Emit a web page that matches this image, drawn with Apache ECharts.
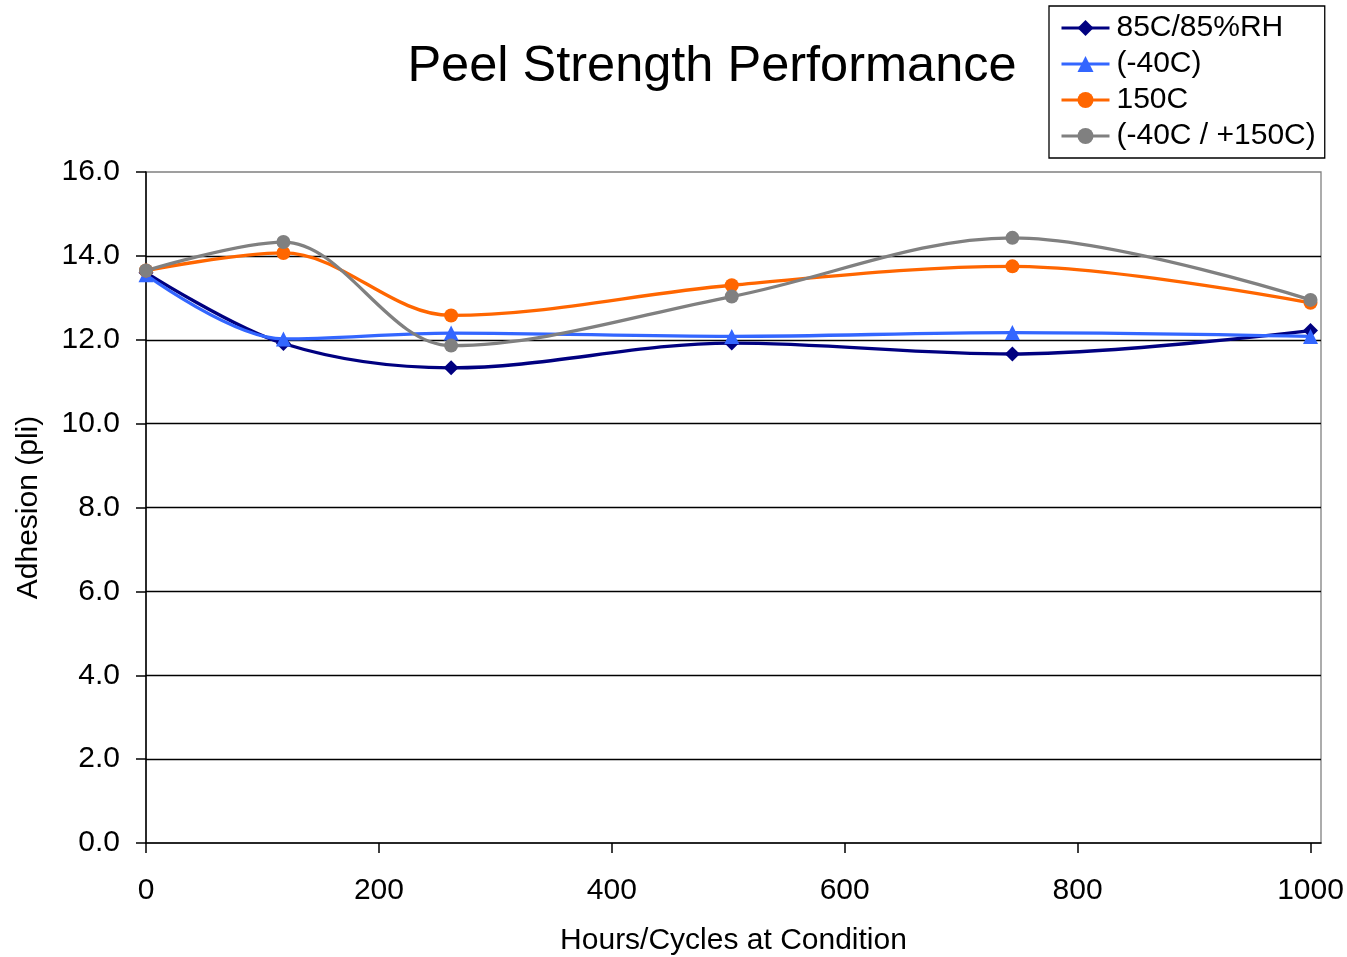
<!DOCTYPE html>
<html>
<head>
<meta charset="utf-8">
<script src="https://cdn.jsdelivr.net/npm/echarts@6/dist/echarts.min.js"></script>
<style>
html,body{margin:0;padding:0;background:#fff;}
#chart{width:1347px;height:957px;}
</style>
</head>
<body>
<div id="chart"></div>
<script>
// Data
var hours = [0, 118, 262, 503, 744, 1000];
var rh85 = [13.60, 11.91, 11.33, 11.92, 11.66, 12.22];
var cold40 = [13.55, 12.02, 12.16, 12.08, 12.17, 12.08];
var hot150 = [13.65, 14.07, 12.58, 13.30, 13.75, 12.88];
var cycle = [13.65, 14.33, 11.86, 13.03, 14.43, 12.95];
var seriesNames = ['85C/85%RH', '(-40C)', '150C', '(-40C / +150C)'];
var xTicks = [0, 200, 400, 600, 800, 1000];

function pairs(ys) { return hours.map(function (h, i) { return [h, ys[i]]; }); }

var FONT = "'Liberation Sans', Arial, sans-serif";
var chart = echarts.init(document.getElementById('chart'), null, {renderer: 'canvas'});

function mkSeries(name, data, color, symbol, size) {
  return {
    name: name, type: 'line', data: pairs(data), smooth: 0.34,
    symbol: symbol, symbolSize: size, showSymbol: true,
    lineStyle: {color: color, width: 3.3},
    itemStyle: {color: color},
    emphasis: {disabled: true}
  };
}

chart.setOption({
  backgroundColor: '#ffffff',
  animation: false,
  title: {
    text: 'Peel Strength Performance',
    left: 707, top: 37, textAlign: 'center',
    textStyle: {fontFamily: FONT, fontSize: 50.5, fontWeight: 'normal', color: '#000'}
  },
  legend: {
    data: seriesNames,
    orient: 'vertical',
    left: 1049, top: 6,
    padding: [7, 9, 7, 11],
    itemGap: 6,
    itemWidth: 48, itemHeight: 20,
    borderColor: '#000', borderWidth: 1.3,
    backgroundColor: '#fff',
    lineStyle: {width: 3},
    textStyle: {fontFamily: FONT, fontSize: 30, color: '#000', padding: [0, 0, 0, 2]}
  },
  grid: {
    left: 146, right: 26, top: 172, bottom: 114,
    outerBoundsMode: 'none', containLabel: false,
    show: true, borderColor: '#808080', borderWidth: 1.3, backgroundColor: '#fff'
  },
  xAxis: {
    type: 'value', min: 0, max: 1009, interval: 200,
    name: 'Hours/Cycles at Condition', nameLocation: 'middle', nameGap: 83,
    nameTextStyle: {fontFamily: FONT, fontSize: 30, color: '#000'},
    axisLine: {show: true, onZero: false, lineStyle: {color: '#000', width: 1.5}},
    axisTick: {show: true, inside: false, length: 10, lineStyle: {color: '#000', width: 1.5}, customValues: xTicks},
    axisLabel: {fontFamily: FONT, fontSize: 30, color: '#000', margin: 33, customValues: xTicks,
      formatter: function (v) { return String(v); }},
    splitLine: {show: false}
  },
  yAxis: {
    type: 'value', min: 0, max: 16, interval: 2,
    name: 'Adhesion (pli)', nameLocation: 'middle', nameGap: 102,
    nameTextStyle: {fontFamily: FONT, fontSize: 30, color: '#000'},
    axisLine: {show: true, lineStyle: {color: '#000', width: 1.5}},
    axisTick: {show: true, inside: false, length: 10, lineStyle: {color: '#000', width: 1.5}},
    axisLabel: {fontFamily: FONT, fontSize: 30, color: '#000', margin: 26,
      formatter: function (v) { return v.toFixed(1); }},
    splitLine: {show: true, showMinLine: false, showMaxLine: false, lineStyle: {color: '#000', width: 1.3}}
  },
  series: [
    mkSeries(seriesNames[0], rh85, '#000080', 'diamond', 15),
    mkSeries(seriesNames[1], cold40, '#3366FF', 'triangle', 15),
    mkSeries(seriesNames[2], hot150, '#FF6600', 'circle', 14),
    mkSeries(seriesNames[3], cycle, '#808080', 'circle', 14)
  ]
});
</script>
</body>
</html>
